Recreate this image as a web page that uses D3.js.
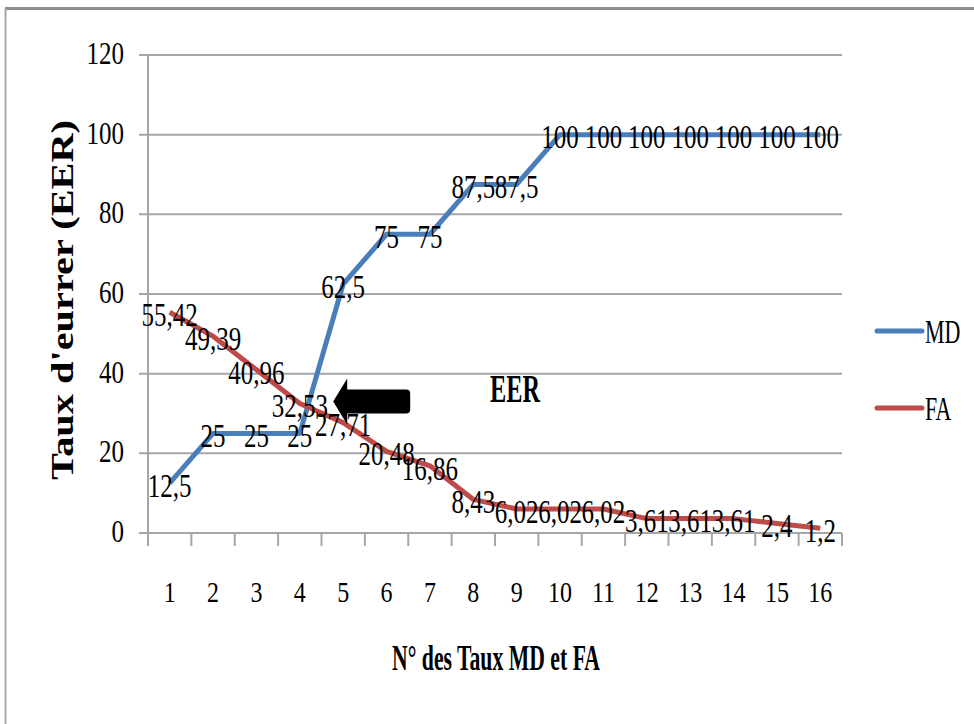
<!DOCTYPE html>
<html>
<head>
<meta charset="utf-8">
<script src="https://cdn.jsdelivr.net/npm/d3@7"></script>
<style>
    body { margin: 0; background: white; }
    text { font-family: "Liberation Serif", "Times New Roman", serif; fill: black; }
</style>
</head>
<body>
<div id="chart"></div>
<script>
var categories = ["1", "2", "3", "4", "5", "6", "7", "8", "9", "10", "11", "12", "13", "14", "15", "16"]
var mdValues = [12.5, 25, 25, 25, 62.5, 75, 75, 87.5, 87.5, 100, 100, 100, 100, 100, 100, 100]
var faValues = [55.42, 49.39, 40.96, 32.53, 27.71, 20.48, 16.86, 8.43, 6.02, 6.02, 6.02, 3.61, 3.61, 3.61, 2.4, 1.2]
var yTicks = [0, 20, 40, 60, 80, 100, 120]
var seriesNames = ["MD", "FA"]

var width = 974, height = 724
var plot = { left: 148, right: 842, top: 55, bottom: 533 }
var colors = { MD: "#4A7EBB", FA: "#BE4B48" }

var svg = d3.select("#chart")
    .append("svg")
        .attr("width", width)
        .attr("height", height)

// frame of the pasted picture
svg.append("line")
    .attr("x1", 5).attr("x2", width).attr("y1", 8.5).attr("y2", 8.5)
    .attr("stroke", "#8c8c8c").attr("stroke-width", 3)
svg.append("line")
    .attr("x1", 5.5).attr("x2", 5.5).attr("y1", 8).attr("y2", height)
    .attr("stroke", "#a8a8a8").attr("stroke-width", 2)

var x = d3.scaleBand()
    .domain(categories)
    .range([plot.left, plot.right])

var y = d3.scaleLinear()
    .domain([0, 120])
    .range([plot.bottom, plot.top])

function cx(d) { return x(d) + x.bandwidth() / 2 }

// text is drawn tall and narrow in the original, stretch it vertically
function tallText(g, tx, ty, sy) {
    g.attr("transform", "translate(" + tx + "," + ty + ") scale(1," + sy + ")")
}

// gridlines + left ticks
svg.append("g")
    .selectAll("line")
    .data(yTicks)
    .join("line")
        .attr("x1", plot.left - 9)
        .attr("x2", plot.right)
        .attr("y1", function(d) { return y(d) })
        .attr("y2", function(d) { return y(d) })
        .attr("stroke", "#a6a6a6")
        .attr("stroke-width", 2)

// y axis line
svg.append("line")
    .attr("x1", plot.left).attr("x2", plot.left)
    .attr("y1", plot.top).attr("y2", plot.bottom + 13)
    .attr("stroke", "#a6a6a6").attr("stroke-width", 2)

// x tick marks at category boundaries
var bounds = categories.map(function(c) { return x(c) }).concat([plot.right])
svg.append("g")
    .selectAll("line")
    .data(bounds)
    .join("line")
        .attr("x1", function(d) { return d })
        .attr("x2", function(d) { return d })
        .attr("y1", plot.bottom)
        .attr("y2", plot.bottom + 13)
        .attr("stroke", "#a6a6a6")
        .attr("stroke-width", 2)

// y tick labels
svg.append("g")
    .selectAll("g")
    .data(yTicks)
    .join("g")
        .each(function(d) { tallText(d3.select(this), 124, y(d) - 2, 1.25) })
    .append("text")
        .attr("text-anchor", "end")
        .attr("dy", "0.35em")
        .style("font-size", "25px")
        .text(function(d) { return d })

// x tick labels
svg.append("g")
    .selectAll("g")
    .data(categories)
    .join("g")
        .each(function(d) { tallText(d3.select(this), cx(d), 591, 1.25) })
    .append("text")
        .attr("text-anchor", "middle")
        .attr("dy", "0.35em")
        .style("font-size", "24px")
        .text(function(d) { return d })

// lines
var line = d3.line()
    .x(function(d, i) { return cx(categories[i]) })
    .y(function(d) { return y(d) })

var series = [
    { name: "MD", values: mdValues },
    { name: "FA", values: faValues }
]

svg.append("g")
    .selectAll("path")
    .data(series)
    .join("path")
        .attr("d", function(d) { return line(d.values) })
        .attr("fill", "none")
        .attr("stroke", function(d) { return colors[d.name] })
        .attr("stroke-width", 5)
        .attr("stroke-linejoin", "round")

// data labels, centered on the points
series.forEach(function(s) {
    svg.append("g")
        .selectAll("g")
        .data(s.values)
        .join("g")
            .each(function(d, i) { tallText(d3.select(this), cx(categories[i]), y(d) + 2, 1.35) })
        .append("text")
            .attr("text-anchor", "middle")
            .attr("dy", "0.35em")
            .style("font-size", "25px")
            .text(function(d) { return String(d).replace(".", ",") })
})

// EER arrow annotation
var tipX = cx("5") - 10, tipY = y(33)
svg.append("path")
    .attr("d", "M" + tipX + "," + tipY +
        " L" + (tipX + 14) + "," + (tipY - 23) +
        " L" + (tipX + 14) + "," + (tipY - 12) +
        " L" + (tipX + 73) + "," + (tipY - 12) +
        " Q" + (tipX + 77) + "," + (tipY - 12) + " " + (tipX + 77) + "," + (tipY - 8) +
        " L" + (tipX + 77) + "," + (tipY + 8) +
        " Q" + (tipX + 77) + "," + (tipY + 12) + " " + (tipX + 73) + "," + (tipY + 12) +
        " L" + (tipX + 14) + "," + (tipY + 12) +
        " L" + (tipX + 14) + "," + (tipY + 23) + " Z")
    .attr("fill", "black")

var eer = svg.append("g")
tallText(eer, 515, 388, 1.7)
eer.append("text")
    .attr("text-anchor", "middle")
    .attr("dy", "0.35em")
    .attr("textLength", 50)
    .attr("lengthAdjust", "spacingAndGlyphs")
    .style("font-size", "24px")
    .style("font-weight", "bold")
    .text("EER")

// legend
var legend = svg.append("g")
    .selectAll("g")
    .data(seriesNames)
    .join("g")
        .attr("transform", function(d, i) { return "translate(877," + (331 + i * 77) + ")" })

legend.append("line")
    .attr("x1", 0).attr("x2", 45)
    .attr("stroke", function(d) { return colors[d] })
    .attr("stroke-width", 5)
    .attr("stroke-linecap", "round")

legend.append("g")
        .attr("transform", "translate(48,0) scale(1,1.5)")
    .append("text")
        .attr("dy", "0.35em")
        .style("font-size", "22px")
        .text(function(d) { return d })

// axis titles
var xTitle = svg.append("g")
tallText(xTitle, 496, 658, 1.6)
xTitle.append("text")
    .attr("text-anchor", "middle")
    .attr("dy", "0.35em")
    .attr("textLength", 208)
    .attr("lengthAdjust", "spacingAndGlyphs")
    .style("font-size", "22px")
    .style("font-weight", "bold")
    .text("N° des Taux MD et FA")

svg.append("text")
    .attr("transform", "translate(62,300) rotate(-90)")
    .attr("text-anchor", "middle")
    .attr("dy", "0.35em")
    .attr("textLength", 360)
    .attr("lengthAdjust", "spacingAndGlyphs")
    .style("font-size", "31px")
    .style("font-weight", "bold")
    .text("Taux d'eurrer (EER)")
</script>
</body>
</html>
